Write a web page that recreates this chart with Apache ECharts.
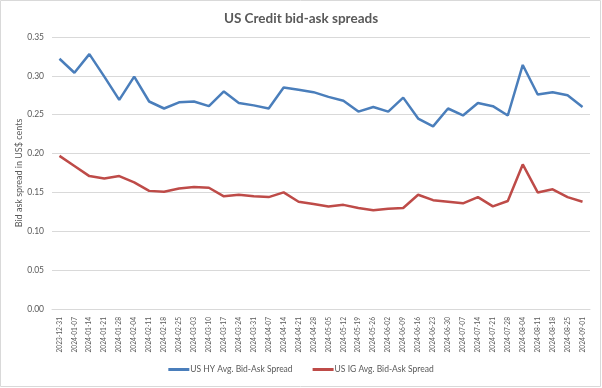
<!DOCTYPE html>
<html>
<head>
<meta charset="utf-8">
<script src="https://cdn.jsdelivr.net/npm/echarts@6/dist/echarts.min.js"></script>
<style>
html,body{margin:0;padding:0;background:#fff;}
#c{width:602px;height:388px;}
</style>
</head>
<body>
<div id="c"></div>
<script>
var categories = ["2023-12-31","2024-01-07","2024-01-14","2024-01-21","2024-01-28","2024-02-04","2024-02-11","2024-02-18","2024-02-25","2024-03-03","2024-03-10","2024-03-17","2024-03-24","2024-03-31","2024-04-07","2024-04-14","2024-04-21","2024-04-28","2024-05-05","2024-05-12","2024-05-19","2024-05-26","2024-06-02","2024-06-09","2024-06-16","2024-06-23","2024-06-30","2024-07-07","2024-07-14","2024-07-21","2024-07-28","2024-08-04","2024-08-11","2024-08-18","2024-08-25","2024-09-01"];
var hySpread = [0.322,0.304,0.328,0.299,0.269,0.299,0.267,0.258,0.266,0.267,0.261,0.280,0.265,0.262,0.258,0.285,0.282,0.279,0.273,0.268,0.254,0.260,0.254,0.272,0.245,0.235,0.258,0.249,0.265,0.261,0.249,0.314,0.276,0.279,0.275,0.260];
var igSpread = [0.197,0.184,0.171,0.168,0.171,0.163,0.152,0.151,0.155,0.157,0.156,0.145,0.147,0.145,0.144,0.150,0.138,0.135,0.132,0.134,0.130,0.127,0.129,0.130,0.147,0.140,0.138,0.136,0.144,0.132,0.139,0.186,0.150,0.154,0.144,0.138];
var seriesNames = ["US HY Avg. Bid-Ask Spread","US IG Avg. Bid-Ask Spread"];

var chart = echarts.init(document.getElementById('c'), null, {renderer:'canvas'});
var txt = '#595959';
var font = 'Lato, "Open Sans", sans-serif';
chart.setOption({
  animation:false,
  title:{text:'US Credit bid-ask spreads', left:'center', top:7,
    textStyle:{fontFamily:font, fontSize:13.5, fontWeight:'bold', color:txt}},
  graphic:[{type:'rect', shape:{x:0.5,y:0.5,width:600,height:386}, style:{fill:'none', stroke:'#d9d9d9', lineWidth:1}, silent:true}],
  legend:{bottom:9, left:'center', itemWidth:21, itemHeight:3, itemGap:20,
    icon:'rect',
    textStyle:{fontFamily:font, fontSize:8.5, color:txt, padding:[0,0,0,-4]},
    data:seriesNames},
  grid:{left:52, right:12, top:37, bottom:79},
  xAxis:{type:'category', data:categories, boundaryGap:true,
    axisLine:{lineStyle:{color:'#d9d9d9'}}, axisTick:{show:false},
    axisLabel:{rotate:90, interval:0, fontFamily:font, fontSize:6.6, color:txt, margin:8}},
  yAxis:{type:'value', min:0, max:0.35, interval:0.05,
    name:'Bid ask spread in US$ cents', nameLocation:'middle', nameGap:28, nameMoveOverlap:false,
    nameTextStyle:{fontFamily:font, fontSize:9, color:txt},
    axisLine:{show:false}, axisTick:{show:false},
    splitLine:{lineStyle:{color:'#d9d9d9'}},
    axisLabel:{fontFamily:font, fontSize:8.5, color:txt, margin:8, formatter:function(v){return v.toFixed(2);}}},
  series:[
    {name:seriesNames[0], type:'line', data:hySpread, symbol:'none', lineStyle:{width:2.5, color:'#4A7EBB'}, itemStyle:{color:'#4A7EBB'}},
    {name:seriesNames[1], type:'line', data:igSpread, symbol:'none', lineStyle:{width:2.5, color:'#BE4B48'}, itemStyle:{color:'#BE4B48'}}
  ]
});
</script>
</body>
</html>
